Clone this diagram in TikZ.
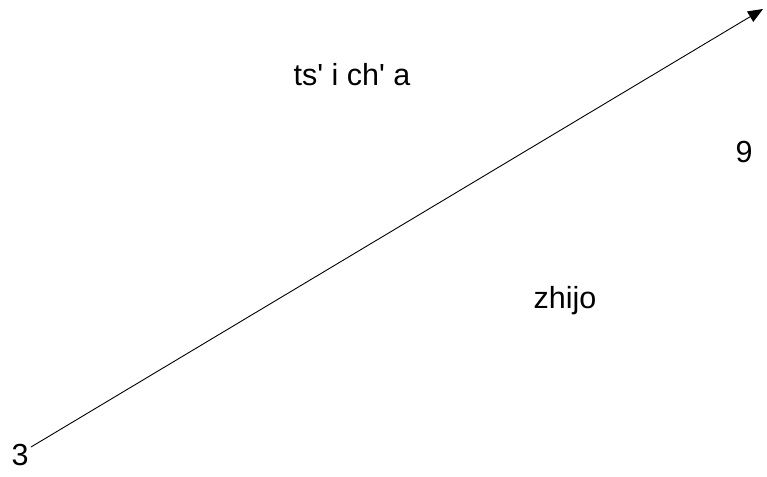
\documentclass[tikz,border=0pt]{standalone}
\usepackage{fontspec}
\setmainfont{Liberation Sans}
\usetikzlibrary{arrows.meta, positioning}

\begin{document}
\begin{tikzpicture}[
            x=1pt, y=-1pt,
            lbl/.style={anchor=base, inner sep=0pt, font=\fontsize{30.5}{36}\selectfont},
            edge/.style={draw=black, line width=0.9pt, -{Triangle[length=15pt, width=12pt]}}
        ]
        \useasboundingbox (0,0) rectangle (767,476);

        % The Ends
        \coordinate (start) at (31,447);
        \coordinate (tip) at (763,9);

        % The Arrow
        \draw[edge] (start) -- (tip);

        % Labels
        \node[lbl] (from) at (20,465) {3};
        \node[lbl] (to) at (744,162) {9};
        \node[lbl] (above) at (352,85) {ts\textquotesingle{} i ch\textquotesingle{} a};
        \node[lbl] (below) at (565,308) {zhijo};

        \end{tikzpicture}
\end{document}
